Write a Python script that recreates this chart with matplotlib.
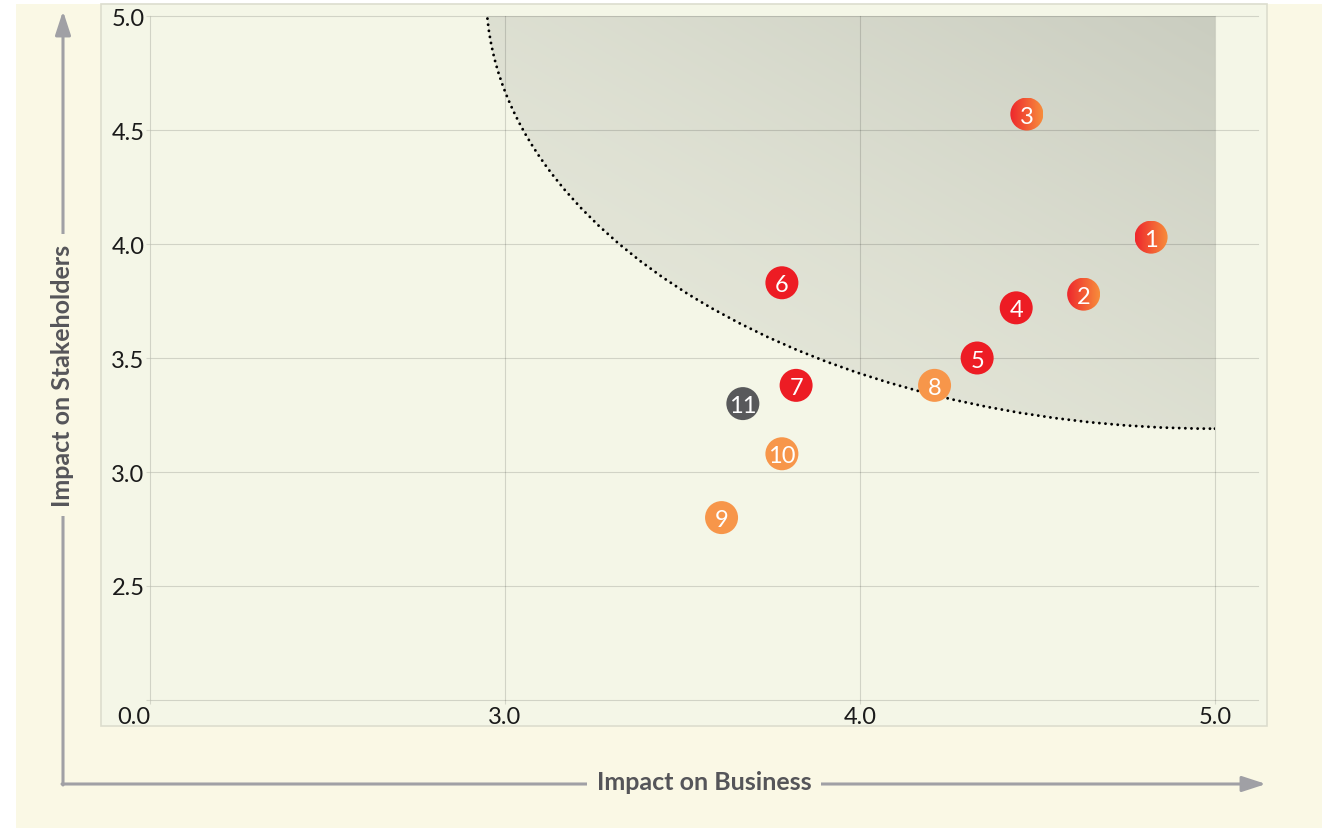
import numpy as np
import matplotlib
matplotlib.use('Agg')
import matplotlib.pyplot as plt
from matplotlib.patches import Rectangle, Ellipse
from matplotlib.colors import LinearSegmentedColormap

# data
ids = ['1', '2', '3', '4', '5', '6', '7', '8', '9', '10', '11']
business = [4.82, 4.63, 4.47, 4.44, 4.33, 3.78, 3.82, 4.21, 3.61, 3.78, 3.67]
stakeholders = [4.03, 3.78, 4.57, 3.72, 3.50, 3.83, 3.38, 3.38, 2.80, 3.08, 3.30]
kind = ['grad', 'grad', 'grad', 'red', 'red', 'red', 'red',
        'orange', 'orange', 'orange', 'gray']

x_ticks = [2.0, 3.0, 4.0, 5.0]
x_tick_labels = ['0.0', '3.0', '4.0', '5.0']
y_ticks = [2.0, 2.5, 3.0, 3.5, 4.0, 4.5, 5.0]
y_tick_labels = ['', '2.5', '3.0', '3.5', '4.0', '4.5', '5.0']

# threshold ellipse (centre, half axes)
zone_center = (5.0, 5.1)
zone_rx = 2.053
zone_ry = 1.91

W, H = 1322, 829
cream = '#FAF8E5'
panel = '#F4F6E7'
colors = {'red': '#ED1C24', 'orange': '#F7964A', 'gray': '#58595B'}
grad_cmap = LinearSegmentedColormap.from_list('g', ['#EE282D', '#F78C3B'])
zone_cmap = LinearSegmentedColormap.from_list('z', ['#E7E9DB', '#CACDC0'])

plt.rcParams['font.family'] = ['Lato', 'DejaVu Sans']

fig = plt.figure(figsize=(W / 100, H / 100), dpi=100)
fig.patch.set_facecolor('white')

# background layer in pixel coordinates
bg = fig.add_axes([0, 0, 1, 1], zorder=0)
bg.set_xlim(0, W)
bg.set_ylim(H, 0)
bg.axis('off')
bg.add_patch(Rectangle((16, 5), W - 16, H - 5, fc=cream, ec='none'))
bg.add_patch(Rectangle((101, 5), 1166, 722, fc=panel, ec='#DCDDCE', lw=1.2))

arrow_col = '#A0A0A5'
bg.annotate('', xy=(1266, 785), xytext=(62, 785),
            arrowprops=dict(arrowstyle='-|>,head_length=0.72,head_width=0.235',
                            mutation_scale=20, color=arrow_col, lw=2.2,
                            shrinkA=0, shrinkB=0))
bg.annotate('', xy=(63, 12), xytext=(63, 786),
            arrowprops=dict(arrowstyle='-|>,head_length=0.72,head_width=0.235',
                            mutation_scale=20, color=arrow_col, lw=2.2,
                            shrinkA=0, shrinkB=0))
bg.text(704, 783, 'Impact on Business', ha='center', va='center',
        fontsize=18, fontweight='bold', color='#555559',
        bbox=dict(boxstyle='square,pad=0.4', fc=cream, ec='none'))
bg.text(63, 376, 'Impact on Stakeholders', ha='center', va='center',
        rotation=90, fontsize=18, fontweight='bold', color='#555559',
        bbox=dict(boxstyle='square,pad=0.4', fc=cream, ec='none'))

# main axes
x0, x1 = 2.0, 2.0 + 1108 / 355
y0, y1 = 2.0, 5.0
ax = fig.add_axes([150 / W, 1 - 701 / H, 1108 / W, 684 / H], zorder=1)
ax.set_facecolor('none')
for s in ax.spines.values():
    s.set_visible(False)

px_x = 1108 / (x1 - x0)
px_y = 684 / (y1 - y0)

# shaded zone with diagonal gradient, clipped to the ellipse
zx0 = zone_center[0] - zone_rx
zy0 = zone_center[1] - zone_ry
u = np.linspace(0, 1, 200)
U, V = np.meshgrid(u, u)
T = ((U + V) / 2) ** 1.5
im = ax.imshow(T, cmap=zone_cmap, origin='lower', aspect='auto',
               extent=[zx0, 5.0, zy0, 5.0], zorder=0.2, interpolation='bilinear')
clip_ell = Ellipse(zone_center, 2 * zone_rx, 2 * zone_ry, transform=ax.transData)
im.set_clip_path(clip_ell)

outline = Ellipse(zone_center, 2 * zone_rx, 2 * zone_ry, fill=False,
                  ec='black', lw=2.1, ls=(0, (0.01, 2.1)), capstyle='round',
                  zorder=2)
ax.add_patch(outline)
clip_rect = Rectangle((zx0 - 0.1, zy0 - 0.1), 5.0 - zx0 + 0.1, 5.0 - zy0 + 0.1,
                      transform=ax.transData)
outline.set_clip_path(clip_rect)

# markers
r = 16.5
rx, ry = r / px_x, r / px_y
for i, (bx, sy, k) in enumerate(zip(business, stakeholders, kind)):
    if k == 'grad':
        g = ax.imshow(np.linspace(0, 1, 64)[None, :], cmap=grad_cmap,
                      extent=[bx - rx, bx + rx, sy - ry, sy + ry],
                      aspect='auto', zorder=3, interpolation='bilinear')
        g.set_clip_path(Ellipse((bx, sy), 2 * rx, 2 * ry, transform=ax.transData))
    else:
        ax.add_patch(Ellipse((bx, sy), 2 * rx, 2 * ry, fc=colors[k], ec='none',
                             zorder=3))
    ax.text(bx, sy, ids[i], ha='center', va='center_baseline', color='white',
            fontsize=17, zorder=4)

ax.set_xlim(x0, x1)
ax.set_ylim(y0, y1)
ax.set_xticks(x_ticks)
ax.set_xticklabels(x_tick_labels)
ax.set_yticks(y_ticks)
ax.set_yticklabels(y_tick_labels)
ax.get_xticklabels()[0].set_horizontalalignment('right')

grid_col = '#000000'
ax.set_axisbelow(True)
ax.grid(True, color=grid_col, alpha=0.14, lw=0.8)
for gl in ax.get_xgridlines() + ax.get_ygridlines():
    gl.set_clip_on(False)
ax.tick_params(axis='both', length=3, width=0.8, color='#D4D6C9',
               labelsize=17, labelcolor='#1A1A1A')
ax.tick_params(axis='x', pad=1)
ax.tick_params(axis='y', pad=1)

fig.savefig('out.png', dpi=100, facecolor=fig.get_facecolor())
